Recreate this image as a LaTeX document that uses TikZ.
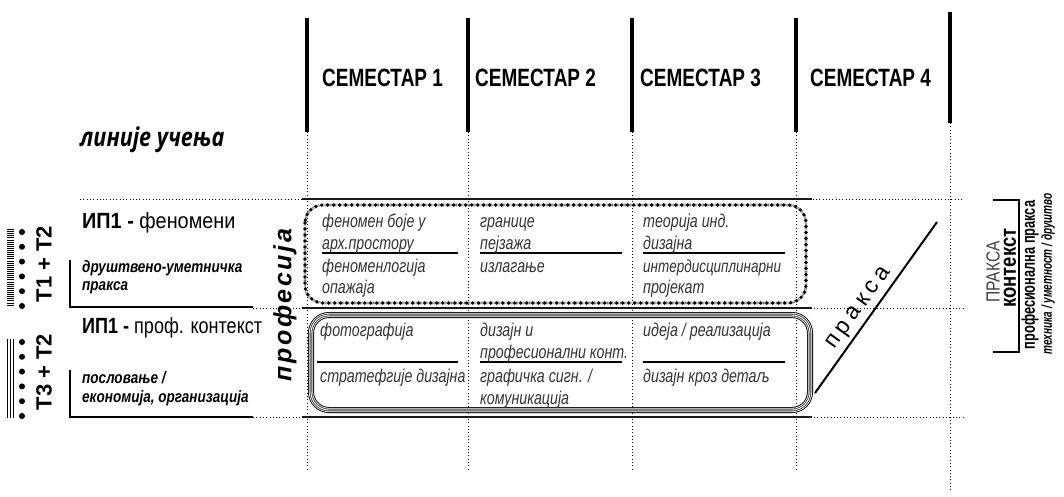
\documentclass[tikz,border=0pt]{standalone}
\usepackage{fontspec}
\setmainfont{Liberation Sans}
\newfontfamily\headfont[FakeStretch=0.76]{Liberation Sans}
\newfontfamily\condfont[FakeStretch=0.82]{Liberation Sans}
\newfontfamily\narrowfont[FakeStretch=0.69]{Liberation Sans}
\newfontfamily\cellfont[FakeStretch=0.77]{Liberation Sans}
\newfontfamily\opfont[FakeStretch=0.83]{Open Sans}
\newfontfamily\spreadfont[LetterSpace=10]{Liberation Sans}
\newfontfamily\looseface[LetterSpace=20]{Liberation Sans}
\tikzset{
  gridline/.style={line width=0.9pt, dash pattern=on 0.9pt off 2.4pt},
  bar/.style={line width=4pt},
  rule/.style={line width=2.5pt, black!90},
  bracket/.style={line width=1.5pt},
  underline/.style={line width=1.2pt},
  beaded/.style={rounded corners=18pt},
  semester/.style={anchor=base west, inner sep=0, font=\headfont\bfseries\fontsize{25}{30}\selectfont},
  cell/.style={anchor=base west, inner sep=0, text=black!80, font=\cellfont\itshape\fontsize{18.5}{22}\selectfont},
  track/.style={anchor=base west, inner sep=0, font=\condfont\fontsize{22}{26}\selectfont},
  field/.style={anchor=base west, inner sep=0, font=\condfont\bfseries\itshape\fontsize{16.5}{20}\selectfont}
}
\begin{document}
\begin{tikzpicture}[x=1pt,y=-1pt]
  \useasboundingbox (0,0) rectangle (1064,497);
  \begin{scope}[every path/.style={gridline}]
    \foreach \x in {307,468,632,796}
      \draw (\x,132) -- (\x,470);
    \draw (950,123) -- (950,490);
    \draw (80,199) -- (963,199);
    \draw (253,308) -- (963,308);
    \draw (253,417) -- (963,417);
  \end{scope}
  \foreach \x in {307,468,632,796}
    \draw[bar] (\x,18) -- (\x,132);
  \draw[bar] (950,12) -- (950,123);
  \foreach \y in {199,308,417}
    \draw[rule] (302,\y) -- (812,\y);
  \draw[bracket] (70,260) -- (70,307) -- (253,307);
  \draw[bracket] (70,370) -- (70,417) -- (253,417);
  \draw[bracket] (993,200) -- (1019,200) -- (1019,352) -- (993,352);
  \draw[line width=7pt, dash pattern=on 0.8pt off 1.3pt] (10,229) -- (10,305);
  \foreach \x in {7,10,13}
    \draw[line width=0.9pt] (\x,339) -- (\x,418);
  \foreach \i in {0,...,5} {
    \fill (22,232+14.8*\i) circle (3);
    \fill (22,342+14.8*\i) circle (3);
  }
  \draw[line width=2.6pt, black!55, dash pattern=on 0.6pt off 0.7pt, beaded] (305,205) rectangle (806,303);
  \draw[line width=3.6pt, line cap=round, dash pattern=on 0pt off 6pt, beaded] (305,205) rectangle (806,303);
  \draw[line width=6pt, beaded] (311,315) rectangle (810,410);
  \draw[line width=4.2pt, white, beaded] (311,315) rectangle (810,410);
  \draw[line width=2.6pt, black!80, beaded] (311,315) rectangle (810,410);
  \draw[line width=0.9pt, white, beaded] (311,315) rectangle (810,410);
  \draw[underline] (322,253) -- (458,253);
  \draw[underline] (480,253) -- (622,253);
  \draw[underline] (643,253) -- (785,253);
  \draw[underline] (317,362) -- (458,362);
  \draw[underline] (480,362) -- (622,362);
  \draw[underline] (643,362) -- (785,362);
  \draw[line width=2pt] (815,393) -- node[sloped, above, pos=0.45, inner sep=3pt, font=\looseface\fontsize{23}{27}\selectfont] (Praksa) {пракса} (937,222);
  \begin{scope}[every node/.style={semester}]
    \node (Sem1) at (322,87) {СЕМЕСТАР 1};
    \node (Sem2) at (475,87) {СЕМЕСТАР 2};
    \node (Sem3) at (640,87) {СЕМЕСТАР 3};
    \node (Sem4) at (810,87) {СЕМЕСТАР 4};
  \end{scope}
  \node[anchor=base west, inner sep=0, font=\opfont\bfseries\itshape\fontsize{26}{30}\selectfont] (Lines) at (80,147) {линије учења};
  \node[track] (IPa) at (82,228) {\scalebox{1.1}[1]{\bfseries ИП1 - \mdseries феномени}};
  \node[track] (IPb) at (82,333) {\bfseries ИП1 - \mdseries проф. контекст};
  \node[field] (SocA) at (82,272) {друштвено-уметничка};
  \node[field] (SocB) at (82,290) {пракса};
  \node[field] (EcoA) at (82,383) {пословање /};
  \node[field] (EcoB) at (82,402) {економија, организација};
  \node[rotate=90, font=\bfseries\fontsize{22}{26}\selectfont] (TOne) at (44,264) {T1 + T2};
  \node[rotate=90, font=\bfseries\fontsize{22}{26}\selectfont] (TThree) at (44,372) {T3 + T2};
  \node[rotate=90, font=\spreadfont\bfseries\itshape\fontsize{25}{30}\selectfont] (Prof) at (285,305) {професија};
  \begin{scope}[every node/.style={cell}]
    \node (A1) at (322,227) {феномен боје у};
    \node (A2) at (322,249) {арх.простору};
    \node (A3) at (322,272) {феноменлогија};
    \node (A4) at (322,293) {опажаја};
    \node (B1) at (480,227) {границе};
    \node (B2) at (480,249) {пејзажа};
    \node (B3) at (480,272) {излагање};
    \node (C1) at (643,227) {теорија инд.};
    \node (C2) at (643,249) {дизајна};
    \node[font=\cellfont\itshape\fontsize{17.5}{21}\selectfont] (C3) at (643,272) {интердисциплинарни};
    \node (C4) at (643,293) {пројекат};
    \node (D1) at (320,336) {фотографија};
    \node (D2) at (320,382) {стратефгије дизајна};
    \node (E1) at (480,336) {дизајн и};
    \node (E2) at (480,358) {професионални конт.};
    \node (E3) at (480,382) {графичка сигн. /};
    \node (E4) at (480,404) {комуникација};
    \node (F1) at (643,336) {идеја / реализација};
    \node (F2) at (643,382) {дизајн кроз детаљ};
  \end{scope}
  \begin{scope}[every node/.style={rotate=90}]
    \node[font=\condfont\fontsize{19}{23}\selectfont, text=black!75] (PraksaCap) at (993,272) {ПРАКСА};
    \node[font=\condfont\bfseries\fontsize{22.5}{26}\selectfont] (Kontekst) at (1010,268) {контекст};
    \node[font=\narrowfont\bfseries\fontsize{18.5}{22}\selectfont] (ProfPraksa) at (1030,275) {професионална пракса};
    \node[font=\narrowfont\bfseries\itshape\fontsize{14.5}{18}\selectfont] (Tehnika) at (1048,274) {техника / уметност / друштво};
  \end{scope}
\end{tikzpicture}
\end{document}
